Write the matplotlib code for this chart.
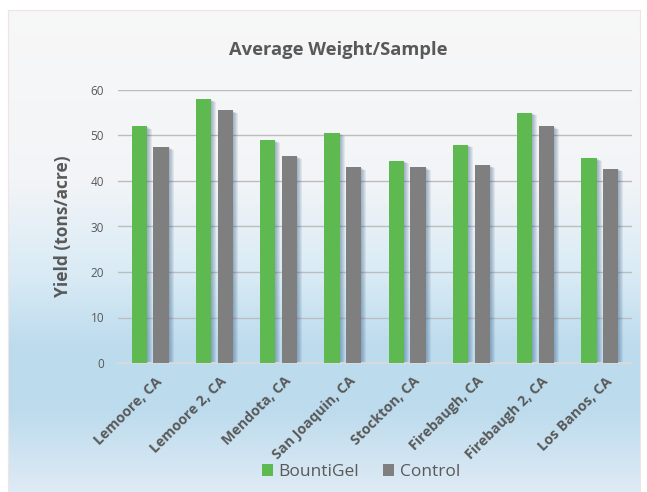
import numpy as np
import matplotlib.pyplot as plt
from matplotlib.patches import Patch

# данные
sites = ['Lemoore, CA', 'Lemoore 2, CA', 'Mendota, CA', 'San Joaquin, CA',
         'Stockton, CA', 'Firebaugh, CA', 'Firebaugh 2, CA', 'Los Banos, CA']
bountigel = [52, 58, 49, 50.5, 44.5, 48, 55, 45]
control = [47.5, 55.5, 45.5, 43, 43, 43.5, 52, 42.7]
yticks = [0, 10, 20, 30, 40, 50, 60]

green = '#5fb951'
gray = '#7f7f7f'
text_col = '#595959'
plt.rcParams['font.family'] = ['Open Sans', 'DejaVu Sans']

fig = plt.figure(figsize=(6.47, 4.92), dpi=100)
fig.patch.set_facecolor('white')

# фон с градиентом
bg = fig.add_axes([8 / 647, 0, 632 / 647, 482 / 492])
stops = [0.0, 0.35, 0.55, 0.7, 0.83, 1.0]
cols = np.array([[0.97, 0.97, 0.97],
                 [0.95, 0.96, 0.97],
                 [0.85, 0.92, 0.96],
                 [0.74, 0.86, 0.93],
                 [0.74, 0.86, 0.93],
                 [0.87, 0.92, 0.96]])
t = np.linspace(0, 1, 300)
grad = np.stack([np.interp(t, stops, cols[:, k]) for k in range(3)], axis=1)
bg.imshow(grad[:, None, :], aspect='auto', extent=[0, 1, 0, 1])
bg.set_xticks([])
bg.set_yticks([])
for s in bg.spines.values():
    s.set_color('#f2e4e4')
    s.set_linewidth(0.8)

ax = fig.add_axes([118 / 647, 1 - 363 / 492, 514 / 647, 273 / 492])
ax.patch.set_visible(False)

x = np.arange(len(sites))
w = 0.235
off = 0.17
px = 1 / 64.25

# тени
for k in range(1, 6):
    for xs, vals in [(x - off, bountigel), (x + off, control)]:
        ax.bar(xs + k * px, np.array(vals) - 0.12 * k, width=w, color='#2c4f78',
               alpha=0.09, zorder=2, linewidth=0)

ax.bar(x - off, bountigel, width=w, color=green, zorder=3, label='BountiGel')
ax.bar(x + off, control, width=w, color=gray, zorder=3, label='Control')

ax.set_xlim(-0.5, len(sites) - 0.5)
ax.set_ylim(0, 60)
ax.set_yticks(yticks)
ax.yaxis.grid(True, color='#bdbdbd', linewidth=1.0, zorder=1)
ax.set_axisbelow(True)
for s in ['left', 'right', 'top']:
    ax.spines[s].set_visible(False)
ax.spines['bottom'].set_color('#dcdcdc')
ax.spines['bottom'].set_linewidth(1.2)
ax.tick_params(length=0)
ax.tick_params(axis='y', labelsize=8.5, labelcolor=text_col, pad=10)
ax.set_xticks(x + 0.08)
ax.set_xticklabels(sites, rotation=45, ha='right', rotation_mode='anchor',
                   fontsize=10.3, fontweight='bold', color=text_col)
ax.tick_params(axis='x', pad=8)

ax.set_ylabel('Yield (tons/acre)', fontsize=12.5, fontweight='bold',
              color=text_col, labelpad=13)
fig.text(338 / 647, 1 - 50 / 492, 'Average Weight/Sample', ha='center',
         va='center', fontsize=13.2, fontweight='bold', color=text_col)

handles = [Patch(facecolor=green), Patch(facecolor=gray)]
fig.legend(handles, ['BountiGel', 'Control'], loc='center',
           bbox_to_anchor=(361 / 647, 1 - 472 / 492), ncol=2, frameon=False,
           fontsize=12.5, labelcolor=text_col, handlelength=0.64, handleheight=0.64,
           handletextpad=0.3, columnspacing=1.4)

fig.savefig('out.png', dpi=100)
